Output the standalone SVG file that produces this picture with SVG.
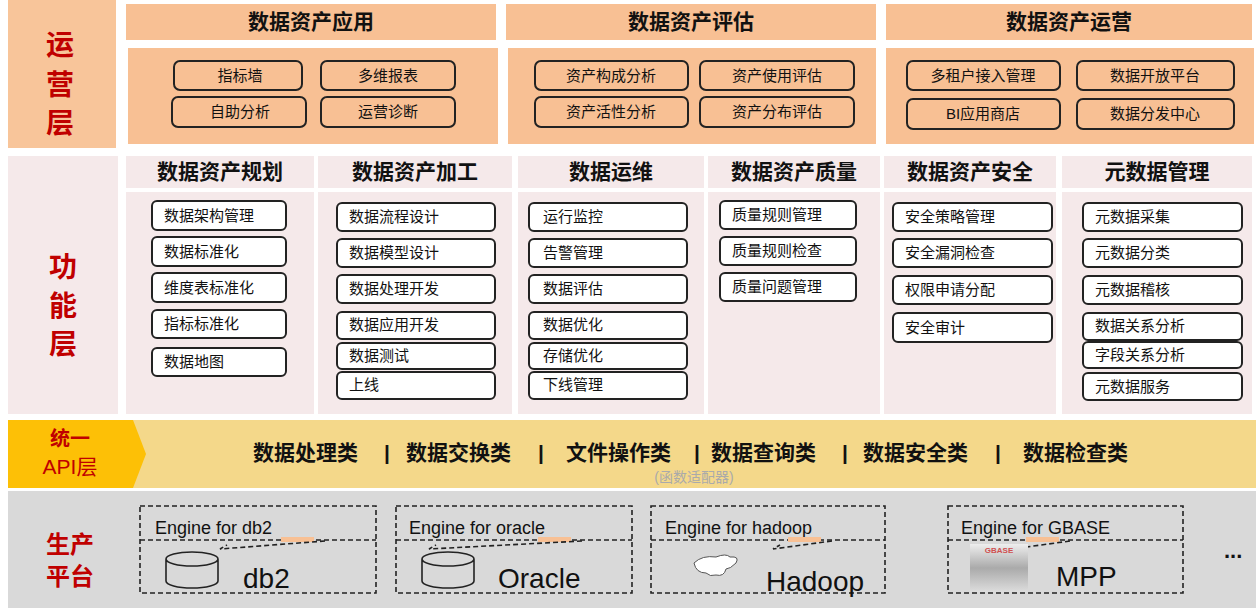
<svg xmlns="http://www.w3.org/2000/svg" width="1256" height="608" viewBox="0 0 1256 608">
<style>
text{font-family:"Liberation Sans","Noto Sans CJK SC",sans-serif;}
.lay{font-size:28px;font-weight:bold;fill:#c00000;text-anchor:middle}
.hd{font-size:21px;font-weight:bold;fill:#111;text-anchor:middle}
.it{fill:none;stroke:#222;stroke-width:2}
.itw{fill:#fff;stroke:#222;stroke-width:2}
.t{font-size:15px;fill:#111;text-anchor:middle}
.tl{font-size:15px;fill:#111}
.api{font-size:21px;font-weight:bold;fill:#111}
.dash{fill:none;stroke:#222;stroke-width:1.6;stroke-dasharray:5,3}
.eng{font-size:18px;fill:#111}
.big{font-size:28px;fill:#111}
</style>
<defs>
<linearGradient id="gb" x1="0" y1="0" x2="0" y2="1"><stop offset="0" stop-color="#eee"/><stop offset="0.5" stop-color="#aaa"/><stop offset="1" stop-color="#ddd"/></linearGradient>
</defs>
<rect width="1256" height="608" fill="#fff"/>
<g id="ops-layer">
<rect x="8" y="0" width="108" height="148" fill="#f8c59a"/>
<text class="lay" x="60" y="55">运</text><text class="lay" x="60" y="95">营</text><text class="lay" x="60" y="133">层</text>
</g>
<g id="app">
<rect x="126" y="4" width="370" height="36" fill="#f8c094"/>
<text class="hd" x="311" y="29">数据资产应用</text>
<rect x="128" y="48" width="370" height="96" fill="#f8c094"/>
<rect class="it" x="174" y="61" width="128" height="29" rx="6"/><text class="t" x="240" y="81">指标墙</text>
<rect class="it" x="321" y="61" width="134" height="29" rx="6"/><text class="t" x="388" y="81">多维报表</text>
<rect class="it" x="172" y="97" width="134" height="30" rx="6"/><text class="t" x="240" y="117">自助分析</text>
<rect class="it" x="321" y="97" width="134" height="30" rx="6"/><text class="t" x="388" y="117">运营诊断</text>
</g>
<g id="eval">
<rect x="506" y="4" width="370" height="36" fill="#f8c094"/>
<text class="hd" x="691" y="29">数据资产评估</text>
<rect x="508" y="48" width="368" height="96" fill="#f8c094"/>
<rect class="it" x="535" y="61" width="153" height="29" rx="6"/><text class="t" x="611" y="81">资产构成分析</text>
<rect class="it" x="700" y="61" width="154" height="29" rx="6"/><text class="t" x="777" y="81">资产使用评估</text>
<rect class="it" x="535" y="97" width="153" height="30" rx="6"/><text class="t" x="611" y="117">资产活性分析</text>
<rect class="it" x="700" y="97" width="154" height="30" rx="6"/><text class="t" x="777" y="117">资产分布评估</text>
</g>
<g id="operate">
<rect x="886" y="4" width="366" height="36" fill="#f8c094"/>
<text class="hd" x="1069" y="29">数据资产运营</text>
<rect x="886" y="48" width="368" height="96" fill="#f8c094"/>
<rect class="it" x="907" y="61" width="153" height="29" rx="6"/><text class="t" x="983" y="81">多租户接入管理</text>
<rect class="it" x="1077" y="61" width="157" height="29" rx="6"/><text class="t" x="1155" y="81">数据开放平台</text>
<rect class="it" x="907" y="99" width="153" height="30" rx="6"/><text class="t" x="983" y="119">BI应用商店</text>
<rect class="it" x="1077" y="99" width="157" height="30" rx="6"/><text class="t" x="1155" y="119">数据分发中心</text>
</g>
<g id="func-layer">
<rect x="8" y="156" width="110" height="258" fill="#f5e9ea"/>
<text class="lay" x="63" y="277">功</text><text class="lay" x="63" y="316">能</text><text class="lay" x="63" y="354">层</text>
</g>
<g id="plan">
<rect x="126" y="156" width="188" height="32" fill="#f5e9ea"/><rect x="126" y="192" width="188" height="222" fill="#f5e9ea"/>
<text class="hd" x="220" y="179">数据资产规划</text>
<rect class="itw" x="152" y="201" width="134" height="29" rx="5"/><text class="tl" x="164" y="221">数据架构管理</text>
<rect class="itw" x="152" y="237" width="134" height="29" rx="5"/><text class="tl" x="164" y="257">数据标准化</text>
<rect class="itw" x="152" y="273" width="134" height="29" rx="5"/><text class="tl" x="164" y="293">维度表标准化</text>
<rect class="itw" x="152" y="310" width="134" height="28" rx="5"/><text class="tl" x="164" y="329">指标标准化</text>
<rect class="itw" x="152" y="348" width="134" height="28" rx="5"/><text class="tl" x="164" y="367">数据地图</text>
</g>
<g id="process">
<rect x="318" y="156" width="194" height="32" fill="#f5e9ea"/><rect x="318" y="192" width="194" height="222" fill="#f5e9ea"/>
<text class="hd" x="415" y="179">数据资产加工</text>
<rect class="itw" x="337" y="203" width="158" height="28" rx="5"/><text class="tl" x="349" y="222">数据流程设计</text>
<rect class="itw" x="337" y="239" width="158" height="28" rx="5"/><text class="tl" x="349" y="258">数据模型设计</text>
<rect class="itw" x="337" y="275" width="158" height="28" rx="5"/><text class="tl" x="349" y="294">数据处理开发</text>
<rect class="itw" x="337" y="312" width="158" height="27" rx="5"/><text class="tl" x="349" y="330">数据应用开发</text>
<rect class="itw" x="337" y="343" width="158" height="26" rx="5"/><text class="tl" x="349" y="361">数据测试</text>
<rect class="itw" x="337" y="372" width="158" height="27" rx="5"/><text class="tl" x="349" y="390">上线</text>
</g>
<g id="opsm">
<rect x="518" y="156" width="186" height="32" fill="#f5e9ea"/><rect x="518" y="192" width="186" height="222" fill="#f5e9ea"/>
<text class="hd" x="611" y="179">数据运维</text>
<rect class="itw" x="529" y="203" width="158" height="28" rx="5"/><text class="tl" x="543" y="222">运行监控</text>
<rect class="itw" x="529" y="239" width="158" height="28" rx="5"/><text class="tl" x="543" y="258">告警管理</text>
<rect class="itw" x="529" y="275" width="158" height="28" rx="5"/><text class="tl" x="543" y="294">数据评估</text>
<rect class="itw" x="529" y="312" width="158" height="27" rx="5"/><text class="tl" x="543" y="330">数据优化</text>
<rect class="itw" x="529" y="343" width="158" height="26" rx="5"/><text class="tl" x="543" y="361">存储优化</text>
<rect class="itw" x="529" y="372" width="158" height="27" rx="5"/><text class="tl" x="543" y="390">下线管理</text>
</g>
<g id="quality">
<rect x="708" y="156" width="172" height="32" fill="#f5e9ea"/><rect x="708" y="192" width="172" height="222" fill="#f5e9ea"/>
<text class="hd" x="794" y="179">数据资产质量</text>
<rect class="itw" x="720" y="201" width="136" height="28" rx="5"/><text class="tl" x="732" y="220">质量规则管理</text>
<rect class="itw" x="720" y="237" width="136" height="28" rx="5"/><text class="tl" x="732" y="256">质量规则检查</text>
<rect class="itw" x="720" y="273" width="136" height="28" rx="5"/><text class="tl" x="732" y="292">质量问题管理</text>
</g>
<g id="security">
<rect x="884" y="156" width="172" height="32" fill="#f5e9ea"/><rect x="884" y="192" width="172" height="222" fill="#f5e9ea"/>
<text class="hd" x="970" y="179">数据资产安全</text>
<rect class="itw" x="893" y="203" width="159" height="28" rx="5"/><text class="tl" x="905" y="222">安全策略管理</text>
<rect class="itw" x="893" y="239" width="159" height="28" rx="5"/><text class="tl" x="905" y="258">安全漏洞检查</text>
<rect class="itw" x="893" y="276" width="159" height="28" rx="5"/><text class="tl" x="905" y="295">权限申请分配</text>
<rect class="itw" x="893" y="313" width="159" height="29" rx="5"/><text class="tl" x="905" y="333">安全审计</text>
</g>
<g id="meta">
<rect x="1062" y="156" width="190" height="32" fill="#f5e9ea"/><rect x="1062" y="192" width="190" height="222" fill="#f5e9ea"/>
<text class="hd" x="1157" y="179">元数据管理</text>
<rect class="itw" x="1083" y="203" width="159" height="28" rx="5"/><text class="tl" x="1095" y="222">元数据采集</text>
<rect class="itw" x="1083" y="239" width="159" height="28" rx="5"/><text class="tl" x="1095" y="258">元数据分类</text>
<rect class="itw" x="1083" y="276" width="159" height="28" rx="5"/><text class="tl" x="1095" y="295">元数据稽核</text>
<rect class="itw" x="1083" y="313" width="159" height="27" rx="5"/><text class="tl" x="1095" y="331">数据关系分析</text>
<rect class="itw" x="1083" y="342" width="159" height="26" rx="5"/><text class="tl" x="1095" y="360">字段关系分析</text>
<rect class="itw" x="1083" y="373" width="159" height="27" rx="5"/><text class="tl" x="1095" y="392">元数据服务</text>
</g>
<g id="api">
<rect x="8" y="420" width="1248" height="68" fill="#f4d88a"/>
<polygon points="8,420 133,420 146,454 133,488 8,488" fill="#fdc006"/>
<text x="70" y="446" style="font-size:20px;font-weight:bold;fill:#c00000;text-anchor:middle">统一</text>
<text x="70" y="474" style="font-size:21px;fill:#c00000;text-anchor:middle">API层</text>
<text class="api" x="253" y="460">数据处理类</text>
<text class="api" x="384" y="460">|</text>
<text class="api" x="406" y="460">数据交换类</text>
<text class="api" x="538" y="460">|</text>
<text class="api" x="566" y="460">文件操作类</text>
<text class="api" x="694" y="460">|</text>
<text class="api" x="711" y="460">数据查询类</text>
<text class="api" x="842" y="460">|</text>
<text class="api" x="863" y="460">数据安全类</text>
<text class="api" x="995" y="460">|</text>
<text class="api" x="1023" y="460">数据检查类</text>
<text x="694" y="482" style="font-size:14px;fill:#aaa;text-anchor:middle">(函数适配器)</text>
</g>
<g id="prod">
<rect x="8" y="491" width="1248" height="117" fill="#d9d9d9"/>
<text x="70" y="553" style="font-size:24px;font-weight:bold;fill:#c00000;text-anchor:middle">生产</text>
<text x="70" y="585" style="font-size:24px;font-weight:bold;fill:#c00000;text-anchor:middle">平台</text>
</g>
<g id="db2">
<rect class="dash" x="140" y="506" width="236" height="87"/><line class="dash" x1="140" y1="540" x2="376" y2="540"/>
<text class="eng" x="155" y="534">Engine for db2</text>
<rect x="281" y="537" width="33" height="5" fill="#f8c094"/>
<polyline class="dash" points="325,541 220,549 227,545"/>
<path d="M166,559 v22 a26,7 0 0 0 52,0 v-22 a26,7 0 0 0 -52,0 a26,7 0 0 0 52,0" fill="none" stroke="#222" stroke-width="1.6"/>
<text class="big" x="243" y="588">db2</text>
</g>
<g id="oracle">
<rect class="dash" x="396" y="506" width="236" height="87"/><line class="dash" x1="396" y1="540" x2="632" y2="540"/>
<text class="eng" x="409" y="534">Engine for  oracle</text>
<rect x="538" y="537" width="33" height="5" fill="#f8c094"/>
<polyline class="dash" points="582,541 429,549 436,545"/>
<path d="M422,559 v22 a26,7 0 0 0 52,0 v-22 a26,7 0 0 0 -52,0 a26,7 0 0 0 52,0" fill="none" stroke="#222" stroke-width="1.6"/>
<text class="big" x="498" y="588">Oracle</text>
</g>
<g id="hadoop">
<rect class="dash" x="651" y="506" width="234" height="87"/><line class="dash" x1="651" y1="540" x2="885" y2="540"/>
<text class="eng" x="665" y="534">Engine for hadoop</text>
<rect x="788" y="537" width="33" height="5" fill="#f8c094"/>
<polyline class="dash" points="832,541 773,549 780,545"/>
<path d="M694,563 q8,-8 22,-6 q10,-4 14,0 q10,-1 6,6 q-6,6 -10,6 q-2,8 -10,6 q-6,2 -10,-2 q-10,0 -12,-10 z" fill="#fff" stroke="#555" stroke-width="1"/>
<text class="big" x="766" y="591">Hadoop</text>
</g>
<g id="gbase">
<rect class="dash" x="948" y="506" width="235" height="87"/><line class="dash" x1="948" y1="540" x2="1183" y2="540"/>
<text class="eng" x="961" y="534">Engine for GBASE</text>
<rect x="1026" y="537" width="33" height="5" fill="#f8c094"/>
<polyline class="dash" points="1070,541 1012,549 1019,545"/>
<rect x="970" y="544" width="58" height="48" fill="url(#gb)"/>
<text x="999" y="553" style="font-size:8px;font-weight:bold;fill:#d05050;text-anchor:middle">GBASE</text>
<text class="big" x="1056" y="586">MPP</text>
</g>
<text x="1224" y="558" style="font-size:22px;font-weight:bold;fill:#111">...</text>
<g id="connectors"></g>
</svg>
